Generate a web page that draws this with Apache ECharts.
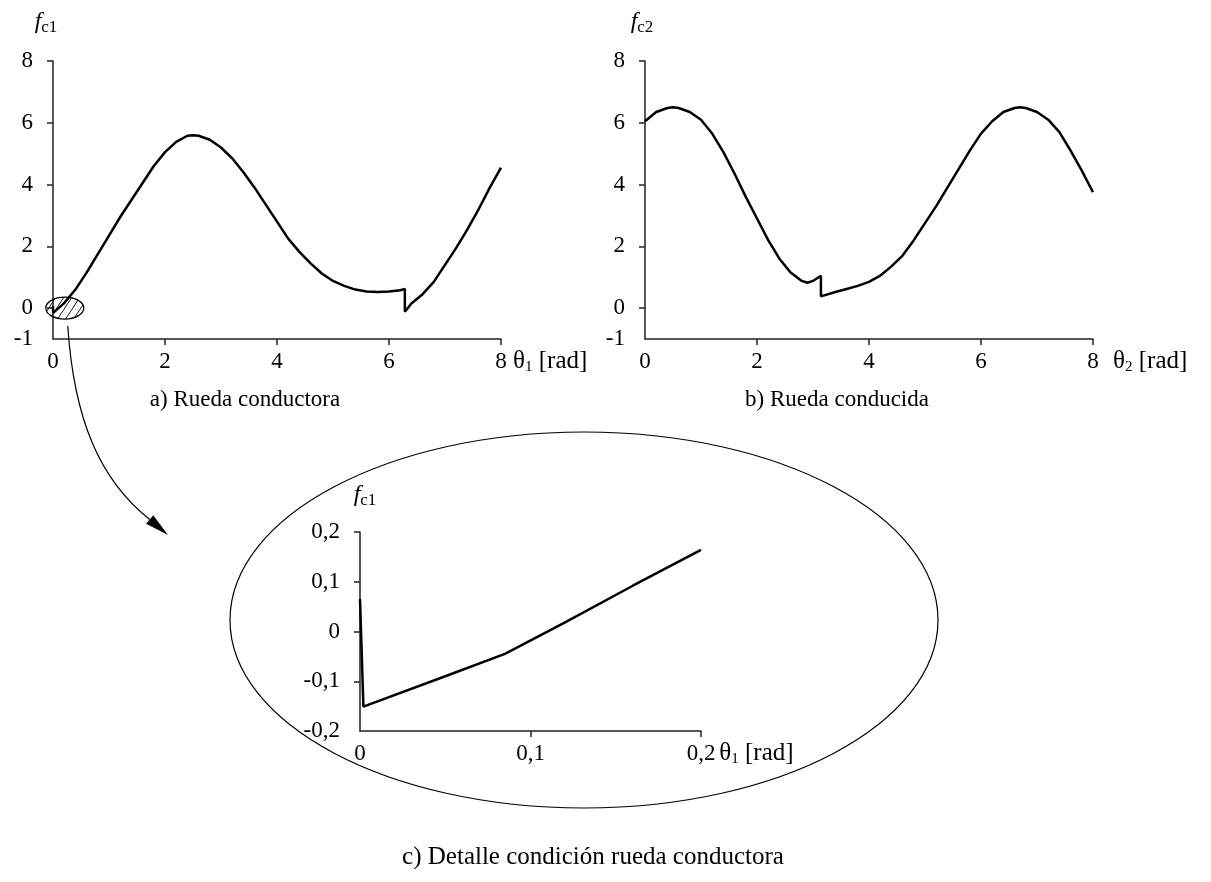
<!DOCTYPE html>
<html>
<head>
<meta charset="UTF-8">
<script src="https://cdn.jsdelivr.net/npm/echarts@6/dist/echarts.min.js"></script>
<style>
  html, body { margin: 0; padding: 0; background: #fff; }
  #chart { width: 1211px; height: 882px; }
</style>
</head>
<body>
<div id="chart"></div>
<script>
// a) rueda conductora: f_c1 vs theta_1 [rad]
var theta1 = [0, 0.003, 0.1, 0.2, 0.4, 0.6, 0.8, 1.0, 1.2, 1.4, 1.6, 1.8, 2.0, 2.2, 2.4, 2.5,
  2.6, 2.8, 3.0, 3.2, 3.4, 3.6, 3.8, 4.0, 4.2, 4.4, 4.6, 4.8, 5.0, 5.2, 5.4, 5.6,
  5.8, 6.0, 6.2, 6.283, 6.283, 6.4, 6.6, 6.8, 7.0, 7.2, 7.4, 7.6, 7.8, 8.0];
var fc1 = [0.07, -0.15, 0.0, 0.16, 0.6, 1.15, 1.75, 2.35, 2.95, 3.5, 4.05, 4.6, 5.05, 5.38, 5.58, 5.6,
  5.58, 5.45, 5.2, 4.85, 4.4, 3.9, 3.35, 2.8, 2.25, 1.82, 1.45, 1.12, 0.88, 0.72, 0.6, 0.54,
  0.52, 0.54, 0.58, 0.62, -0.12, 0.15, 0.45, 0.85, 1.4, 1.95, 2.55, 3.2, 3.9, 4.55];

// b) rueda conducida: f_c2 vs theta_2 [rad]
var theta2 = [0, 0.2, 0.4, 0.5, 0.6, 0.8, 1.0, 1.2, 1.4, 1.6, 1.8, 2.0, 2.2, 2.4, 2.6, 2.8,
  2.9, 3.0, 3.1416, 3.1416, 3.4, 3.6, 3.8, 4.0, 4.2, 4.4, 4.6, 4.8, 5.0, 5.2, 5.4, 5.6,
  5.8, 6.0, 6.2, 6.4, 6.6, 6.7, 6.8, 7.0, 7.2, 7.4, 7.6, 7.8, 8.0];
var fc2 = [6.05, 6.35, 6.48, 6.5, 6.48, 6.35, 6.1, 5.65, 5.05, 4.35, 3.6, 2.9, 2.2, 1.6, 1.15, 0.88,
  0.82, 0.88, 1.05, 0.38, 0.52, 0.62, 0.72, 0.85, 1.05, 1.35, 1.7, 2.2, 2.75, 3.3, 3.9, 4.5,
  5.1, 5.65, 6.05, 6.35, 6.48, 6.5, 6.48, 6.35, 6.1, 5.7, 5.1, 4.45, 3.75];

// c) detalle cerca de theta_1 = 0
var thetaDet = [0, 0.002, 0.05, 0.085, 0.12, 0.16, 0.2];
var fc1Det = [0.065, -0.151, -0.09, -0.045, 0.018, 0.092, 0.164];

var yLabelsAB = [-1, 0, 2, 4, 6, 8];
var yTicksAB = [0, 2, 4, 6, 8];
var xTicksAB = [2, 4, 6, 8];
var yTicksDet = [-0.1, 0, 0.1, 0.2];
var xTicksDet = [0.1, 0.2];

var titles = ['a) Rueda conductora', 'b) Rueda conducida', 'c) Detalle condición rueda conductora'];

var FONT = 'Liberation Serif';
var FS = 23;
var lineCol = '#222';

function pairs(xs, ys) {
  return xs.map(function (x, i) { return [x, ys[i]]; });
}
function comma(v) {
  return String(Math.round(v * 10) / 10).replace('.', ',');
}

var nameRich = {
  t: { fontFamily: FONT, fontSize: 25, color: '#000', lineHeight: 28 },
  s: { fontFamily: FONT, fontSize: 15, color: '#000', lineHeight: 15, verticalAlign: 'bottom' }
};
var yNameRich = {
  f: { fontFamily: FONT, fontSize: 24, fontStyle: 'italic', color: '#000', lineHeight: 28 },
  s: { fontFamily: FONT, fontSize: 17, color: '#000', lineHeight: 18, verticalAlign: 'bottom' }
};

function xAxis(gi, min, max, interval, ticks, fmt, nameSub, nameGap) {
  return {
    gridIndex: gi, type: 'value', min: min, max: max, interval: interval,
    axisLine: { onZero: false, lineStyle: { color: lineCol, width: 1.5 } },
    axisTick: { length: 6, customValues: ticks, lineStyle: { color: lineCol, width: 1.5 } },
    axisLabel: { fontFamily: FONT, fontSize: FS, color: '#000', margin: 11, formatter: fmt },
    splitLine: { show: false },
    name: '{t|θ}{s|' + nameSub + '}{t| [rad]}',
    nameLocation: 'end', nameGap: nameGap,
    nameTextStyle: { align: 'left', verticalAlign: 'top', padding: [8, 0, 0, 0], rich: nameRich }
  };
}
function yAxis(gi, min, max, interval, labels, ticks, fmt, nameSub, nameGap, namePad) {
  return {
    gridIndex: gi, type: 'value', min: min, max: max, interval: interval,
    axisLine: { onZero: false, lineStyle: { color: lineCol, width: 1.5 } },
    axisTick: { length: 6, customValues: ticks, lineStyle: { color: lineCol, width: 1.5 } },
    axisLabel: { fontFamily: FONT, fontSize: FS, color: '#000', margin: 20, customValues: labels, formatter: fmt },
    splitLine: { show: false },
    name: '{f|f}{s|' + nameSub + '}',
    nameLocation: 'end', nameGap: nameGap,
    nameTextStyle: { align: 'center', verticalAlign: 'middle', padding: namePad, rich: yNameRich }
  };
}
function lineSeries(gi, data) {
  return {
    type: 'line', xAxisIndex: gi, yAxisIndex: gi, data: data,
    showSymbol: false, symbol: 'none', silent: true,
    lineStyle: { color: '#000', width: 2.5 }
  };
}
function titleAt(text, x, y, size) {
  return {
    text: text, left: x, top: y, textAlign: 'center',
    textStyle: { fontFamily: FONT, fontSize: size, fontWeight: 'normal', color: '#000' }
  };
}

var chart = echarts.init(document.getElementById('chart'));
chart.setOption({
  backgroundColor: '#fff',
  animation: false,
  title: [
    titleAt(titles[0], 240, 383, 23),
    titleAt(titles[1], 832, 383, 23),
    titleAt(titles[2], 588, 840, 25)
  ],
  grid: [
    { left: 53, top: 61, width: 448, height: 278, outerBoundsMode: 'none' },
    { left: 645, top: 61, width: 448, height: 278, outerBoundsMode: 'none' },
    { left: 360, top: 532, width: 341, height: 199, outerBoundsMode: 'none' }
  ],
  xAxis: [
    xAxis(0, 0, 8, 2, xTicksAB, null, '1', 12),
    xAxis(1, 0, 8, 2, xTicksAB, null, '2', 20),
    xAxis(2, 0, 0.2, 0.1, xTicksDet, comma, '1', 16)
  ],
  yAxis: [
    yAxis(0, -1, 8, 1, yLabelsAB, yTicksAB, null, 'c1', 39, [0, 14, 0, 0]),
    yAxis(1, -1, 8, 1, yLabelsAB, yTicksAB, null, 'c2', 39, [0, 6, 0, 0]),
    yAxis(2, -0.2, 0.2, 0.1, null, yTicksDet, comma, 'c1', 37, [0, 0, 0, 10])
  ],
  series: [
    lineSeries(0, pairs(theta1, fc1)),
    lineSeries(1, pairs(theta2, fc2)),
    lineSeries(2, pairs(thetaDet, fc1Det))
  ]
});

// zoom marker on chart a, the big ellipse around chart c, and the arrow between them
var c0 = chart.convertToPixel({ gridIndex: 0 }, [0.21, 0]);
var erx = 19, ery = 11;
var gfx = [];
gfx.push({
  type: 'ellipse', z: 10,
  shape: { cx: c0[0], cy: c0[1], rx: erx, ry: ery },
  style: { fill: 'none', stroke: '#000', lineWidth: 1.3 }
});
var ux = 0.55, uy = -0.835, un = Math.sqrt(ux * ux + uy * uy);
ux /= un; uy /= un;
var nx = -uy, ny = ux;
[-13.4, -6.7, 0, 6.7, 13.4].forEach(function (d) {
  var a = d * nx, b = d * ny;
  var A = ux * ux / (erx * erx) + uy * uy / (ery * ery);
  var B = 2 * (a * ux / (erx * erx) + b * uy / (ery * ery));
  var C = a * a / (erx * erx) + b * b / (ery * ery) - 1;
  var disc = B * B - 4 * A * C;
  if (disc <= 0) return;
  var t1 = (-B - Math.sqrt(disc)) / (2 * A), t2 = (-B + Math.sqrt(disc)) / (2 * A);
  gfx.push({
    type: 'line', z: 10,
    shape: { x1: c0[0] + a + t1 * ux, y1: c0[1] + b + t1 * uy, x2: c0[0] + a + t2 * ux, y2: c0[1] + b + t2 * uy },
    style: { stroke: '#000', lineWidth: 0.9 }
  });
});
gfx.push({
  type: 'ellipse', z: 1,
  shape: { cx: 584, cy: 620, rx: 354, ry: 188 },
  style: { fill: 'none', stroke: '#000', lineWidth: 1.2 }
});
var tip = [168, 535], dir = [1, 0.85], dl = Math.sqrt(dir[0] * dir[0] + dir[1] * dir[1]);
dir = [dir[0] / dl, dir[1] / dl];
var base = [tip[0] - 24 * dir[0], tip[1] - 24 * dir[1]];
gfx.push({
  type: 'bezierCurve', z: 10,
  shape: { x1: c0[0] + 3, y1: c0[1] + ery + 7, cpx1: 74, cpy1: 420, cpx2: 100, cpy2: 480, x2: base[0], y2: base[1] },
  style: { fill: 'none', stroke: '#000', lineWidth: 1.2 }
});
gfx.push({
  type: 'polygon', z: 10,
  shape: { points: [tip, [base[0] - 5.5 * dir[1], base[1] + 5.5 * dir[0]], [base[0] + 5.5 * dir[1], base[1] - 5.5 * dir[0]]] },
  style: { fill: '#000' }
});
chart.setOption({ graphic: gfx });
</script>
</body>
</html>
